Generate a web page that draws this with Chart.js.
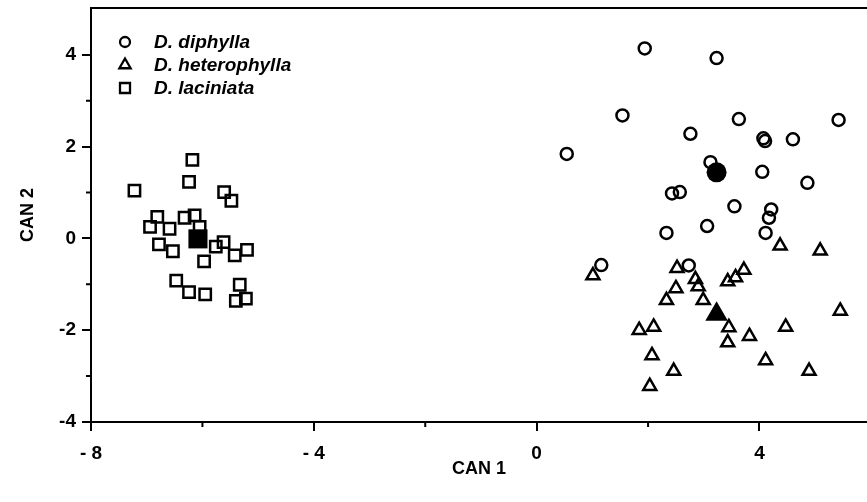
<!DOCTYPE html>
<html>
<head>
<meta charset="utf-8">
<script src="https://cdn.jsdelivr.net/npm/chart.js@4/dist/chart.umd.min.js"></script>
<style>
  html, body { margin: 0; padding: 0; background: #fff; }
  #wrap { width: 867px; height: 502px; }
</style>
</head>
<body>
<div id="wrap"><canvas id="chart" width="867" height="502"></canvas></div>
<script>
// 三种 Dicentra 的典型判别分析（CAN 1 / CAN 2）散点

// D. diphylla（空心圆）
const diphyllaX = [1.94, 3.23, 1.54, 0.54, 2.76, 3.63, 4.07, 4.10, 4.60, 5.42, 3.12, 4.05, 4.86, 2.57, 2.43, 3.55, 4.21, 4.17, 3.06, 2.33, 4.11, 1.16, 2.73];
const diphyllaY = [4.14, 3.93, 2.68, 1.84, 2.28, 2.60, 2.18, 2.12, 2.16, 2.58, 1.66, 1.45, 1.21, 1.01, 0.98, 0.70, 0.63, 0.45, 0.27, 0.12, 0.12, -0.58, -0.59];

// D. heterophylla（空心三角）
const heteroX = [4.37, 5.09, 1.01, 2.52, 2.85, 2.90, 2.50, 2.33, 2.99, 3.43, 3.57, 3.72, 3.45, 3.43, 3.82, 4.47, 5.45, 1.84, 2.10, 2.07, 2.46, 2.03, 4.11, 4.89];
const heteroY = [-0.16, -0.27, -0.81, -0.65, -0.89, -1.05, -1.09, -1.35, -1.35, -0.94, -0.85, -0.69, -1.94, -2.27, -2.13, -1.93, -1.58, -2.00, -1.93, -2.55, -2.89, -3.22, -2.66, -2.89];

// D. laciniata（空心方块）
const laciniataX = [-6.18, -6.24, -7.22, -5.61, -5.48, -6.81, -6.94, -6.59, -6.32, -6.14, -6.05, -6.78, -6.53, -5.97, -5.76, -5.62, -5.42, -5.20, -6.47, -6.24, -5.95, -5.33, -5.22, -5.40];
const laciniataY = [1.71, 1.23, 1.04, 1.01, 0.82, 0.47, 0.25, 0.21, 0.45, 0.50, 0.25, -0.13, -0.28, -0.50, -0.18, -0.08, -0.37, -0.25, -0.92, -1.17, -1.22, -1.01, -1.31, -1.36];

// 组均值（实心）
const centroidX = [3.23, 3.23, -6.08];
const centroidY = [1.44, -1.65, -0.01];

// 刻度
const xTicks = [-8, -4, 0, 4];
const xTickLabels = ['- 8', '- 4', '0', '4'];
const xMinor = [-6, -2, 2];
const yTicks = [-4, -2, 0, 2, 4];
const yTickLabels = ['-4', '-2', '0', '2', '4'];
const yMinor = [-3, -1, 1, 3];

const legendNames = ['D. diphylla', 'D. heterophylla', 'D. laciniata'];
const legendStyles = ['circle', 'triangle', 'rect'];

const zip = (xs, ys) => xs.map((x, i) => ({ x, y: ys[i] }));

const tickFont = { family: "'Liberation Sans Narrow', 'Liberation Sans', Arial, sans-serif", size: 19, weight: 'bold' };

function drawMarker(ctx, style, x, y, r) {
  ctx.beginPath();
  if (style === 'circle') {
    ctx.arc(x, y, r, 0, Math.PI * 2);
  } else if (style === 'triangle') {
    ctx.moveTo(x, y - r);
    ctx.lineTo(x + r * 0.866, y + r * 0.5);
    ctx.lineTo(x - r * 0.866, y + r * 0.5);
    ctx.closePath();
  } else {
    ctx.rect(x - r, y - r, r * 2, r * 2);
  }
  ctx.stroke();
}

// 上边框、次刻度、图例
const framePlugin = {
  id: 'frame',
  afterDraw(chart) {
    const { ctx, chartArea: a, scales: { x, y } } = chart;
    ctx.save();
    ctx.strokeStyle = '#000';
    ctx.lineWidth = 2;
    ctx.beginPath();
    ctx.moveTo(a.left - 1, a.top);
    ctx.lineTo(a.right, a.top);
    xMinor.forEach(v => { const px = x.getPixelForValue(v); ctx.moveTo(px, a.bottom); ctx.lineTo(px, a.bottom + 5); });
    yMinor.forEach(v => { const py = y.getPixelForValue(v); ctx.moveTo(a.left, py); ctx.lineTo(a.left - 5, py); });
    ctx.stroke();

    ctx.lineWidth = 2.3;
    ctx.fillStyle = '#000';
    ctx.font = "italic bold 19px 'Liberation Sans', Arial, sans-serif";
    ctx.textBaseline = 'middle';
    legendNames.forEach((name, i) => {
      const ly = a.top + 34 + i * 23;
      const r = legendStyles[i] === 'triangle' ? 6.5 : 5;
      drawMarker(ctx, legendStyles[i], a.left + 34, ly, r);
      ctx.fillText(name, a.left + 63, ly + 1);
    });
    ctx.restore();
  }
};

const openPoint = { showLine: false, backgroundColor: 'rgba(0,0,0,0)', borderColor: '#000', borderWidth: 2.5 };

new Chart(document.getElementById('chart'), {
  type: 'scatter',
  data: {
    datasets: [
      { label: 'mean', data: zip(centroidX, centroidY), pointStyle: ['circle', 'triangle', 'rect'], pointRadius: [10, 13, 13.5], backgroundColor: '#000', borderColor: '#000', borderWidth: 0 },
      { label: legendNames[0], data: zip(diphyllaX, diphyllaY), pointStyle: 'circle', pointRadius: 6, ...openPoint },
      { label: legendNames[1], data: zip(heteroX, heteroY), pointStyle: 'triangle', pointRadius: 7.5, ...openPoint },
      { label: legendNames[2], data: zip(laciniataX, laciniataY), pointStyle: 'rect', pointRadius: 8, ...openPoint }
    ]
  },
  options: {
    responsive: false,
    animation: false,
    events: [],
    layout: { autoPadding: false, padding: { top: 8, right: 0, left: 0, bottom: 0 } },
    plugins: { legend: { display: false }, tooltip: { enabled: false } },
    scales: {
      x: {
        type: 'linear',
        min: -8,
        max: 5.93,
        afterBuildTicks: s => { s.ticks = xTicks.map(v => ({ value: v })); },
        afterFit: s => { s.height = 80; s.paddingLeft = 0; s.paddingRight = 0; },
        border: { display: true, color: '#000', width: 2 },
        grid: { drawOnChartArea: false, drawTicks: true, tickLength: 9, color: '#000', lineWidth: 2 },
        ticks: { color: '#000', font: tickFont, padding: 11, maxRotation: 0, autoSkip: false,
          callback: v => xTickLabels[xTicks.indexOf(v)] },
        title: { display: true, text: 'CAN 1', color: '#000', font: { ...tickFont, size: 18 }, padding: { top: 0, bottom: 22 } }
      },
      y: {
        type: 'linear',
        min: -4,
        max: 5.02,
        afterBuildTicks: s => { s.ticks = yTicks.map(v => ({ value: v })); },
        afterFit: s => { s.width = 91; s.paddingTop = 0; s.paddingBottom = 0; },
        border: { display: true, color: '#000', width: 2 },
        grid: { drawOnChartArea: false, drawTicks: true, tickLength: 9, color: '#000', lineWidth: 2 },
        ticks: { color: '#000', font: tickFont, padding: 6, autoSkip: false,
          callback: v => yTickLabels[yTicks.indexOf(v)] },
        title: { display: true, text: 'CAN 2', color: '#000', font: { ...tickFont, size: 18 }, padding: { top: 17, bottom: 0 } }
      }
    }
  },
  plugins: [framePlugin]
});
</script>
</body>
</html>
